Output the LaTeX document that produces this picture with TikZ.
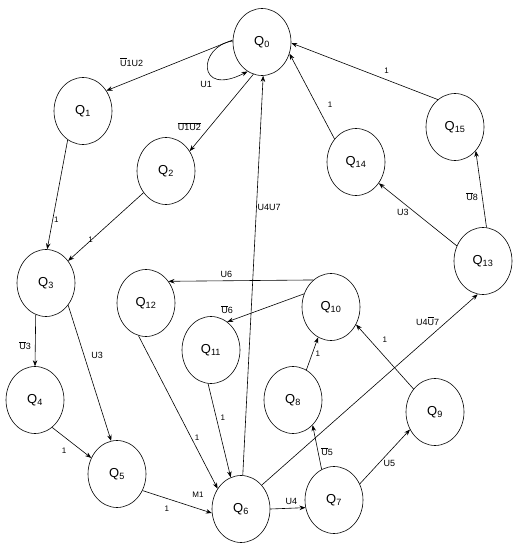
\documentclass[tikz,border=0pt]{standalone}
\usepackage{fontspec}
\setmainfont{Liberation Sans}
\usetikzlibrary{shapes.geometric, arrows.meta}

\newcommand{\inv}[1]{\ensuremath{\overline{\mbox{#1}}}}

\begin{document}
\begin{tikzpicture}[
    x=1pt, y=-1pt,
    state/.style={ellipse, draw, line width=0.6pt, minimum width=58pt, minimum height=67pt, inner sep=0pt, font=\fontsize{13}{13}\selectfont},
    arr/.style={-{Stealth[length=6pt,width=4.5pt]}, line width=0.6pt},
    lbl/.style={font=\fontsize{9}{9}\selectfont, inner sep=1pt},
    one/.style={font=\fontsize{8}{8}\selectfont, inner sep=1pt}
]
    \useasboundingbox (0,0) rectangle (529,557);

    \node[state] (q0)  at (262,42)  {Q\textsubscript{0}};
    \node[state] (q1)  at (83,111)  {Q\textsubscript{1}};
    \node[state] (q2)  at (166,171) {Q\textsubscript{2}};
    \node[state] (q3)  at (46,283)  {Q\textsubscript{3}};
    \node[state] (q4)  at (35,400)  {Q\textsubscript{4}};
    \node[state] (q5)  at (117,474) {Q\textsubscript{5}};
    \node[state] (q6)  at (241,509) {Q\textsubscript{6}};
    \node[state] (q7)  at (334,500) {Q\textsubscript{7}};
    \node[state] (q8)  at (293,400) {Q\textsubscript{8}};
    \node[state] (q9)  at (435,412) {Q\textsubscript{9}};
    \node[state] (q10) at (331,307) {Q\textsubscript{10}};
    \node[state] (q11) at (211,350) {Q\textsubscript{11}};
    \node[state] (q12) at (146,303) {Q\textsubscript{12}};
    \node[state] (q13) at (483,261) {Q\textsubscript{13}};
    \node[state] (q14) at (356,162) {Q\textsubscript{14}};
    \node[state] (q15) at (455,127) {Q\textsubscript{15}};

    % upper part
    \draw[arr] (q0.176) -- node[lbl, pos=0.8, above=13pt]{\inv{U}1U2} (q1.41);
    \draw[arr] (q0.178) .. controls (198,46) and (196,98) .. node[lbl, pos=0.7, below left=2pt]{U1} (q0.244);
    \draw[arr] (q0.255) -- node[lbl, pos=0.68, left=8pt]{\inv{U1}\inv{U2}} (q2.40);
    \draw[arr] (q1.242) -- node[one, pos=0.73, right]{1} (q3.88);
    \draw[arr] (q2.224) -- node[one, pos=0.75, above right]{1} (q3.45);
    \draw[arr] (q14.133) -- node[one, pos=0.4, right=10pt]{1} (q0.337);
    \draw[arr] (q15.122) -- node[one, pos=0.35, above=5pt]{1} (q0.358);
    \draw[arr] (q13.150) -- node[lbl, pos=0.6, below left]{U3} (q14.317);
    \draw[arr] (q13.84) -- node[lbl, pos=0.4, left=3pt]{\inv{U}8} (q15.311);

    % left part
    \draw[arr] (q3.252) -- node[lbl, pos=0.6, left=3pt]{\inv{U}3} (q4.90);
    \draw[arr] (q3.315) -- node[lbl, pos=0.37, right=6pt]{U3} (q5.100);
    \draw[arr] (q4.302) -- node[one, pos=0.5, below left=4pt]{1} (q5.148);
    \draw[arr] (q5.327) -- node[one, pos=0.35, below=6pt]{1} node[one, pos=0.8, above=10pt]{M1} (q6.188);
    \draw[arr] (q12.257) -- node[one, pos=0.67, right=2pt]{1} (q6.139);
    \draw[arr] (q11.265) -- node[one, pos=0.36, right=3pt]{1} (q6.108);

    % middle part
    \draw[arr] (q6.87) -- node[lbl, pos=0.67, right]{U4U7} (q0.272);
    \draw[arr] (q6.0) -- node[lbl, pos=0.6, above=2pt]{U4} (q7.195);
    \draw[arr] (q6.49) -- node[lbl, pos=0.86, left=7pt]{U4\inv{U}7} (q13.261);
    \draw[arr] (q7.112) -- node[lbl, pos=0.4, right=2pt]{\inv{U}5} (q8.308);
    \draw[arr] (q7.32) -- node[lbl, pos=0.45, below right]{U5} (q9.215);
    \draw[arr] (q8.66) -- node[one, pos=0.5, right=2pt]{1} (q10.247);
    \draw[arr] (q9.133) -- node[one, pos=0.5, above=13pt]{1} (q10.325);
    \draw[arr] (q10.123) -- node[lbl, pos=0.6, above=2pt]{U6} (q12.44);
    \draw[arr] (q10.154) -- node[lbl, pos=1, above=7pt]{\inv{U}6} (q11.60);
\end{tikzpicture}
\end{document}
